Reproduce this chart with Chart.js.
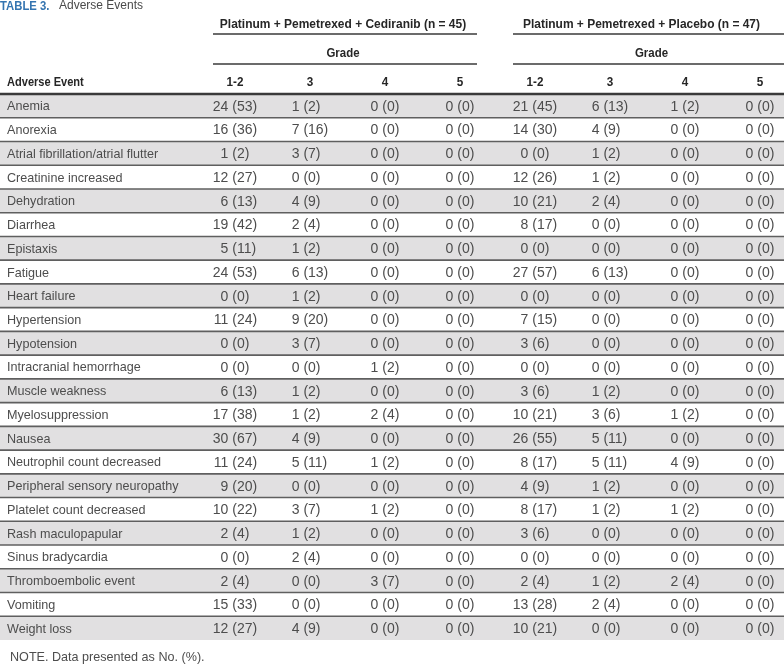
<!DOCTYPE html>
<html>
<head>
<meta charset="utf-8">
<script src="https://cdn.jsdelivr.net/npm/chart.js@4.4.1/dist/chart.umd.min.js"></script>
<style>
  html, body { margin: 0; padding: 0; background: #fff; }
  #wrap { width: 784px; height: 665px; }
</style>
</head>
<body>
<div id="wrap"><canvas id="table3" width="784" height="665"></canvas></div>
<script>
// table content
const events = [
    'Anemia', 'Anorexia', 'Atrial fibrillation/atrial flutter', 'Creatinine increased',
    'Dehydration', 'Diarrhea', 'Epistaxis', 'Fatigue', 'Heart failure', 'Hypertension',
    'Hypotension', 'Intracranial hemorrhage', 'Muscle weakness', 'Myelosuppression',
    'Nausea', 'Neutrophil count decreased', 'Peripheral sensory neuropathy',
    'Platelet count decreased', 'Rash maculopapular', 'Sinus bradycardia',
    'Thromboembolic event', 'Vomiting', 'Weight loss'
];
const grades = ['1-2', '3', '4', '5', '1-2', '3', '4', '5'];
const arms = ['Platinum + Pemetrexed + Cediranib (n = 45)', 'Platinum + Pemetrexed + Placebo (n = 47)'];

// Platinum + Pemetrexed + Cediranib
const cedG12 = ['24 (53)', '16 (36)', '1 (2)', '12 (27)', '6 (13)', '19 (42)', '5 (11)', '24 (53)', '0 (0)', '11 (24)', '0 (0)', '0 (0)',
    '6 (13)', '17 (38)', '30 (67)', '11 (24)', '9 (20)', '10 (22)', '2 (4)', '0 (0)', '2 (4)', '15 (33)', '12 (27)'];
const cedG3 = ['1 (2)', '7 (16)', '3 (7)', '0 (0)', '4 (9)', '2 (4)', '1 (2)', '6 (13)', '1 (2)', '9 (20)', '3 (7)', '0 (0)',
    '1 (2)', '1 (2)', '4 (9)', '5 (11)', '0 (0)', '3 (7)', '1 (2)', '2 (4)', '0 (0)', '0 (0)', '4 (9)'];
const cedG4 = ['0 (0)', '0 (0)', '0 (0)', '0 (0)', '0 (0)', '0 (0)', '0 (0)', '0 (0)', '0 (0)', '0 (0)', '0 (0)', '1 (2)',
    '0 (0)', '2 (4)', '0 (0)', '1 (2)', '0 (0)', '1 (2)', '0 (0)', '0 (0)', '3 (7)', '0 (0)', '0 (0)'];
const cedG5 = ['0 (0)', '0 (0)', '0 (0)', '0 (0)', '0 (0)', '0 (0)', '0 (0)', '0 (0)', '0 (0)', '0 (0)', '0 (0)', '0 (0)',
    '0 (0)', '0 (0)', '0 (0)', '0 (0)', '0 (0)', '0 (0)', '0 (0)', '0 (0)', '0 (0)', '0 (0)', '0 (0)'];

// Platinum + Pemetrexed + Placebo
const plaG12 = ['21 (45)', '14 (30)', '0 (0)', '12 (26)', '10 (21)', '8 (17)', '0 (0)', '27 (57)', '0 (0)', '7 (15)', '3 (6)', '0 (0)',
    '3 (6)', '10 (21)', '26 (55)', '8 (17)', '4 (9)', '8 (17)', '3 (6)', '0 (0)', '2 (4)', '13 (28)', '10 (21)'];
const plaG3 = ['6 (13)', '4 (9)', '1 (2)', '1 (2)', '2 (4)', '0 (0)', '0 (0)', '6 (13)', '0 (0)', '0 (0)', '0 (0)', '0 (0)',
    '1 (2)', '3 (6)', '5 (11)', '5 (11)', '1 (2)', '1 (2)', '0 (0)', '0 (0)', '1 (2)', '2 (4)', '0 (0)'];
const plaG4 = ['1 (2)', '0 (0)', '0 (0)', '0 (0)', '0 (0)', '0 (0)', '0 (0)', '0 (0)', '0 (0)', '0 (0)', '0 (0)', '0 (0)',
    '0 (0)', '1 (2)', '0 (0)', '4 (9)', '0 (0)', '1 (2)', '0 (0)', '0 (0)', '2 (4)', '0 (0)', '0 (0)'];
const plaG5 = ['0 (0)', '0 (0)', '0 (0)', '0 (0)', '0 (0)', '0 (0)', '0 (0)', '0 (0)', '0 (0)', '0 (0)', '0 (0)', '0 (0)',
    '0 (0)', '0 (0)', '0 (0)', '0 (0)', '0 (0)', '0 (0)', '0 (0)', '0 (0)', '0 (0)', '0 (0)', '0 (0)'];

const columns = [cedG12, cedG3, cedG4, cedG5, plaG12, plaG3, plaG4, plaG5];

const labelFont = '12.6px "Liberation Sans", Arial, sans-serif';
const cellFont = '14px "Liberation Sans", Arial, sans-serif';
const headFont = 'bold 13px "Liberation Sans", Arial, sans-serif';
const bodyColor = '#4d4d4d';
const headColor = '#262626';

function hline(ctx, x1, x2, y, w, color) {
    ctx.beginPath();
    ctx.lineWidth = w;
    ctx.strokeStyle = color;
    ctx.moveTo(x1, y);
    ctx.lineTo(x2, y);
    ctx.stroke();
}

// draw text squeezed horizontally (condensed look)
function narrowText(ctx, text, x, y, align, s) {
    ctx.save();
    ctx.translate(x, y);
    ctx.scale(s, 1);
    ctx.textAlign = align;
    ctx.fillText(text, 0, 0);
    ctx.restore();
}

const tablePlugin = {
    id: 'tablePlugin',
    beforeDraw(chart) {
        const {ctx, width, height, chartArea} = chart;
        const y = chart.scales.y;
        const band = (chartArea.bottom - chartArea.top) / events.length;
        ctx.save();
        ctx.fillStyle = '#fff';
        ctx.fillRect(0, 0, width, height);
        // zebra rows
        events.forEach((e, i) => {
            if (i % 2 === 0) {
                ctx.fillStyle = '#e1e0e1';
                ctx.fillRect(0, y.getPixelForValue(i) - band / 2, width, band);
            }
        });
        // row separators
        for (let i = 1; i < events.length; i++) {
            const yy = (y.getPixelForValue(i - 1) + y.getPixelForValue(i)) / 2;
            hline(ctx, 0, width, yy, 1.6, '#5f5f5f');
        }
        hline(ctx, 0, width, chartArea.top, 2.6, '#3a3a3a');
        ctx.restore();
    },
    afterDatasetsDraw(chart) {
        const {ctx, width, chartArea} = chart;
        const x = chart.scales.x;
        const y = chart.scales.y;
        ctx.save();
        ctx.textBaseline = 'middle';

        // title
        ctx.font = 'bold 13px "Liberation Sans", Arial, sans-serif';
        ctx.fillStyle = '#3474b0';
        narrowText(ctx, 'TABLE 3.', 0, 6, 'left', 0.87);
        ctx.font = '12px "Liberation Sans", Arial, sans-serif';
        ctx.fillStyle = '#4a4a4a';
        ctx.textAlign = 'left';
        ctx.fillText('Adverse Events', 59, 6);

        // arm headers and Grade spanners
        ctx.font = headFont;
        ctx.fillStyle = headColor;
        arms.forEach((arm, g) => {
            const c0 = g * 4, c3 = g * 4 + 3;
            const left = x.getPixelForValue(c0) - 22;
            const right = g === 0 ? x.getPixelForValue(c3) + 17 : width;
            const mid = (left + right) / 2;
            narrowText(ctx, arm, mid - (g === 0 ? 2 : 7), chartArea.top - 70, 'center', 0.92);
            hline(ctx, left, right, chartArea.top - 60, 1.4, '#3a3a3a');
            narrowText(ctx, 'Grade', mid + (g === 0 ? -2 : 3), chartArea.top - 41, 'center', 0.88);
            hline(ctx, left, right, chartArea.top - 30, 1.4, '#3a3a3a');
        });

        // column headers
        narrowText(ctx, 'Adverse Event', 7, chartArea.top - 12, 'left', 0.85);
        grades.forEach((gr, c) => narrowText(ctx, gr, x.getPixelForValue(c), chartArea.top - 12, 'center', 0.9));

        // row labels
        ctx.font = labelFont;
        ctx.fillStyle = bodyColor;
        ctx.textAlign = 'left';
        events.forEach((e, i) => ctx.fillText(e, 7, y.getPixelForValue(i) + 1));

        // cells, aligned on the opening parenthesis
        ctx.font = cellFont;
        chart.data.datasets.forEach((ds, c) => {
            const meta = chart.getDatasetMeta(c);
            const parts = ds.cells.map(s => {
                const k = s.indexOf(' (');
                return [s.slice(0, k), s.slice(k)];
            });
            const wNum = Math.max(...parts.map(p => ctx.measureText(p[0]).width));
            const wPct = Math.max(...parts.map(p => ctx.measureText(p[1]).width));
            meta.data.forEach((pt, i) => {
                const anchor = pt.x - (wNum + wPct) / 2 + wNum;
                ctx.textAlign = 'right';
                ctx.fillText(parts[i][0], anchor, pt.y + 1);
                ctx.textAlign = 'left';
                ctx.fillText(parts[i][1], anchor, pt.y + 1);
            });
        });

        // footnote
        ctx.font = labelFont;
        ctx.textAlign = 'left';
        ctx.fillText('NOTE. Data presented as No. (%).', 10, chartArea.bottom + 18);
        ctx.restore();
    }
};

new Chart(document.getElementById('table3'), {
    type: 'scatter',
    data: {
        labels: events,
        datasets: columns.map((col, c) => ({
            label: grades[c],
            data: events.map(e => ({x: c, y: e})),
            cells: col,
            pointRadius: 0,
            pointHoverRadius: 0
        }))
    },
    options: {
        responsive: false,
        animation: false,
        events: [],
        layout: {
            autoPadding: false,
            padding: {left: 235, right: 24, top: 94, bottom: 25}
        },
        scales: {
            x: {type: 'linear', min: 0, max: 7, display: false},
            y: {type: 'category', labels: events, offset: true, display: false}
        },
        plugins: {
            legend: {display: false},
            tooltip: {enabled: false},
            title: {display: false}
        }
    },
    plugins: [tablePlugin]
});
</script>
</body>
</html>
